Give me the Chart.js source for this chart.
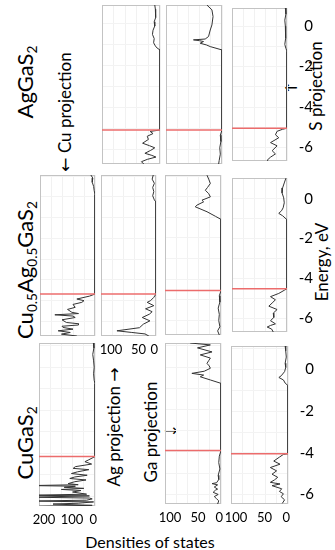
<!DOCTYPE html>
<html>
<head>
<meta charset="utf-8">
<script src="https://cdn.jsdelivr.net/npm/chart.js@4.4.0/dist/chart.umd.min.js"></script>
<style>
  body { margin: 0; background: #fff; font-family: Lato, sans-serif; }
  #fig { position: relative; width: 335px; height: 550px; overflow: hidden; }
  canvas.panel { position: absolute; }
  .rot { position: absolute; white-space: nowrap; color: #000; transform: translate(-50%, -50%) rotate(-90deg); }
  .flat { position: absolute; white-space: nowrap; color: #000; transform: translate(-50%, -50%); font-family: "DejaVu Sans", sans-serif; }
  .arr { font-family: "DejaVu Sans", sans-serif; }
  sub { font-size: 62%; vertical-align: -0.32em; line-height: 0; }
</style>
</head>
<body>
<div id="fig">
  <div class="rot" style="left:24px;top:82px;font-size:22px">AgGaS<sub>2</sub></div>
  <div class="rot" style="left:24px;top:270px;font-size:22px">Cu<sub>0.5</sub>Ag<sub>0.5</sub>GaS<sub>2</sub></div>
  <div class="rot" style="left:24px;top:443px;font-size:22px">CuGaS<sub>2</sub></div>
  <div class="rot" style="left:64px;top:112px;font-size:17px"><span class="arr">&larr;</span> Cu projection</div>
  <div class="rot" style="left:113px;top:427px;font-size:17px">Ag projection <span class="arr">&rarr;</span></div>
  <div class="rot" style="left:150px;top:432px;font-size:17px">Ga projection</div>
  <div class="flat" style="left:171px;top:430px;font-size:16px">&rarr;</div>
  <div class="rot" style="left:315px;top:86px;font-size:17px">S projection</div>
  <div class="flat" style="left:291px;top:87px;font-size:16px">&larr;</div>
  <div class="rot" style="left:321px;top:262px;font-size:17px">Energy, eV</div>
  <div class="flat" style="left:150px;top:541px;font-size:16px;font-family:Lato,sans-serif">Densities of states</div>
</div>
<script>
// tick labels
var xTicks100 = [0, 50, 100];
var xTicks200 = [0, 100, 200];
var yTicks = [0, -2, -4, -6];

// AgGaS2 (energy in eV, density of states)
var agsAgE = [0.9, 0.7, 0.5, 0.3, 0.1, -0.1, -0.3, -0.5, -0.7, -0.9, -1.05, -1.15, -1.24,
              -5.05, -5.12, -5.22, -5.35, -5.5, -5.68, -5.8, -5.9, -6.02, -6.16, -6.26, -6.34, -6.45, -6.56, -6.67];
var agsAgD = [9, 8, 7, 8, 10, 9, 12, 13, 10, 11, 8, 5, 0,
              0, 17, 12, 22, 20, 30, 18, 9, 16, 26, 14, 7, 22, 32, 28];
var agsGaE = [0.9, 0.67, 0.35, -0.05, -0.29, -0.6, -0.72, -0.76, -0.8, -0.84, -0.92, -1.0, -1.08, -1.24,
              -5.05, -5.3, -5.6, -5.9, -6.2, -6.5, -6.67];
var agsGaD = [27, 18, 16, 18, 21, 24, 30, 51, 40, 33, 39, 28, 21, 0,
              0, 3, 2, 4, 3, 5, 6];
var agsSE = [0.9, 0.6, 0.3, 0, -0.3, -0.6, -0.9, -1.1, -1.24,
             -5.05, -5.1, -5.2, -5.37, -5.52, -5.76, -5.92, -6.16, -6.32, -6.48, -6.63, -6.67];
var agsSD = [3, 2, 4, 3, 3, 2, 4, 2, 0,
             0, 8, 18, 21, 15, 30, 18, 27, 21, 30, 36, 34];

// Cu0.5Ag0.5GaS2
var mixCuE = [1.05, 0.9, 0.7, 0.5, 0.3, 0.1,
              -4.68, -4.78, -4.92, -5.0, -5.08, -5.18, -5.32, -5.42, -5.56, -5.62, -5.68, -5.74, -5.81, -5.92,
              -6.05, -6.11, -6.17, -6.23, -6.29, -6.37, -6.45, -6.53, -6.61, -6.7];
var mixCuD = [15, 8, 10, 5, 3, 0,
              0, 20, 66, 40, 48, 80, 72, 100, 84, 60, 146, 80, 72, 120,
              104, 60, 60, 120, 116, 80, 134, 90, 122, 66];
var mixAgE = [1.05, 0.85, 0.65, 0.45, 0.25, 0.05, -0.15, -0.25,
              -4.68, -4.84, -5.0, -5.08, -5.24, -5.39, -5.53, -5.65, -5.81, -5.97, -6.13, -6.3, -6.45, -6.53, -6.6, -6.7];
var mixAgD = [5, 7, 3, 6, 4, 6, 3, 0,
              0, 4, 10, 16, 4, 19, 7, 12, 25, 11, 23, 30, 71, 44, 20, 13];
var mixGaE = [1.04, 0.85, 0.64, 0.45, 0.31, 0.15, -0.01, -0.17, -0.25, -0.41, -0.49, -0.73, -0.95, -1.1,
              -4.55, -4.8, -5.1, -5.4, -5.7, -6.0, -6.3, -6.5, -6.7];
var mixGaD = [25, 22, 19, 24, 28, 22, 19, 34, 31, 43, 46, 25, 10, 0,
              0, 3, 2, 5, 3, 4, 2, 6, 3];
var mixSE = [1.04, 0.8, 0.55, 0.3, 0.05, -0.2, -0.45, -0.6, -0.73, -0.85, -1.05,
             -4.52, -4.6, -4.76, -4.92, -5.08, -5.24, -5.4, -5.57, -5.75, -5.97, -6.13, -6.29, -6.37, -6.45, -6.55, -6.7];
var mixSD = [2, 5, 8, 9, 6, 5, 7, 10, 15, 8, 0,
             0, 5, 15, 30, 21, 27, 33, 18, 25, 24, 30, 21, 30, 36, 28, 25];

// CuGaS2
var cgsCuE = [1.15, 0.9, 0.6, 0.3, 0.0, -0.3, -0.6, -0.77,
              -4.15, -4.3, -4.39, -4.5, -4.62, -4.7, -4.76, -4.86, -4.94, -5.02,
              -5.1, -5.17, -5.24, -5.32, -5.41, -5.46, -5.5, -5.53, -5.58, -5.63,
              -5.68, -5.73, -5.8, -5.9, -5.95, -5.98, -6.04, -6.08, -6.12, -6.18,
              -6.22, -6.26, -6.32, -6.36, -6.42, -6.47, -6.5];
var cgsCuD = [6, 4, 8, 5, 3, 5, 3, 0,
              0, 22, 36, 12, 70, 78, 22, 62, 84, 28,
              72, 90, 32, 72, 96, 60, 230, 70, 110, 40,
              120, 50, 80, 30, 230, 20, 230, 20, 10, 30,
              230, 5, 60, 150, 10, 230, 5];
var cgsGaE = [1.13, 1.04, 0.9, 0.71, 0.57, 0.42, 0.3, 0.17, 0.05, -0.06, -0.2, -0.3, -0.38, -0.46, -0.61, -0.77,
              -3.93, -4.2, -4.5, -4.8, -5.1, -5.3, -5.45, -5.49, -5.55, -5.65, -5.75, -5.8, -5.9, -6.0, -6.1, -6.2, -6.3, -6.45];
var cgsGaD = [55, 19, 42, 16, 37, 19, 22, 25, 21, 19, 30, 52, 31, 37, 19, 0,
              0, 3, 4, 2, 5, 4, 8, 16, 6, 12, 6, 10, 14, 5, 12, 8, 4, 6];
var cgsSE = [1.13, 0.9, 0.6, 0.3, 0.1, -0.1, -0.3, -0.38, -0.5, -0.65, -0.77,
             -4.04, -4.07, -4.2, -4.39, -4.54, -4.7, -4.86, -5.02, -5.17, -5.3, -5.41, -5.49, -5.57, -5.72, -5.85, -5.96, -6.1, -6.25, -6.42];
var cgsSD = [5, 4, 3, 5, 4, 6, 12, 16, 8, 5, 0,
             0, 8, 15, 25, 14, 31, 20, 28, 18, 24, 31, 14, 28, 11, 15, 8, 12, 6, 10];

// valence band top (red line), eV
var agsVbm = [-5.05, -5.05, -5.05];
var mixVbm = [-4.68, -4.68, -4.55, -4.52];
var cgsVbm = [-4.15, -3.93, -4.04];

// energy range of each row
var rowMin = [-6.67, -6.7, -6.45];
var rowMax = [0.9, 1.05, 1.13];

// panel layout: x, y, w, h in px
var panels = [
    { e: agsAgE, d: agsAgD, vbm: agsVbm[0], row: 0, max: 100, box: [102, 5, 58, 159] },
    { e: agsGaE, d: agsGaD, vbm: agsVbm[1], row: 0, max: 100, box: [166, 5, 56, 159] },
    { e: agsSE, d: agsSD, vbm: agsVbm[2], row: 0, max: 100, box: [232, 5, 55, 159], yLab: true },
    { e: mixCuE, d: mixCuD, vbm: mixVbm[0], row: 1, max: 200, box: [40, 175, 55, 161] },
    { e: mixAgE, d: mixAgD, vbm: mixVbm[1], row: 1, max: 100, box: [101, 175, 55, 161], xLab: true, xShift: 10 },
    { e: mixGaE, d: mixGaD, vbm: mixVbm[2], row: 1, max: 100, box: [165, 175, 56, 160] },
    { e: mixSE, d: mixSD, vbm: mixVbm[3], row: 1, max: 100, box: [232, 175, 55, 160], yLab: true },
    { e: cgsCuE, d: cgsCuD, vbm: cgsVbm[0], row: 2, max: 200, box: [39, 343, 56, 163], xLab: true, xShift: 5 },
    { e: cgsGaE, d: cgsGaD, vbm: cgsVbm[1], row: 2, max: 100, box: [165, 343, 56, 161], xLab: true, xShift: 5 },
    { e: cgsSE, d: cgsSD, vbm: cgsVbm[2], row: 2, max: 100, box: [231, 343, 57, 161], xLab: true, yLab: true, xShift: 5 }
];

var framePlugin = {
    id: "frame",
    beforeDatasetsDraw: function (chart) {
        var a = chart.chartArea, c = chart.ctx;
        c.save();
        c.strokeStyle = "#c3c3c3";
        c.lineWidth = 1;
        c.strokeRect(Math.round(a.left) + 0.5, Math.round(a.top) + 0.5,
            Math.round(a.right - a.left) - 1, Math.round(a.bottom - a.top) - 1);
        c.restore();
    }
};

// x tick labels: "0" kept inside the right edge, the others nudged right
var xLabelPlugin = {
    id: "xLabels",
    afterDraw: function (chart, args, opts) {
        if (!opts.show) return;
        var sx = chart.scales.x, c = chart.ctx, y = chart.chartArea.bottom + 14;
        c.save();
        c.font = "13px Lato";
        c.fillStyle = "#000";
        c.textBaseline = "middle";
        opts.ticks.forEach(function (v) {
            var px = sx.getPixelForValue(v);
            if (v === 0) {
                c.textAlign = "right";
                px += 2;
            } else {
                c.textAlign = "center";
                px += opts.shift;
            }
            c.fillText(String(v), px, y);
        });
        c.restore();
    }
};

function near(list, v) {
    return list.some(function (t) { return Math.abs(t - v) < 1e-6; });
}

var fig = document.getElementById("fig");

panels.forEach(function (p) {
    var padL = 18, padR = 18, padT = 10, padB = 10;
    var yW = p.yLab ? 26 : 0, xH = p.xLab ? 26 : 0;
    var gridStep = p.max === 200 ? 40 : 20;

    var cv = document.createElement("canvas");
    cv.className = "panel";
    cv.width = p.box[2] + padL + padR + yW;
    cv.height = p.box[3] + padT + padB + xH;
    cv.style.left = (p.box[0] - padL) + "px";
    cv.style.top = (p.box[1] - padT) + "px";
    fig.appendChild(cv);

    var pts = p.e.map(function (e, i) { return { x: p.d[i], y: e }; });

    new Chart(cv.getContext("2d"), {
        type: "line",
        data: {
            datasets: [{
                data: [{ x: 0, y: p.vbm }, { x: p.max, y: p.vbm }],
                borderColor: "#ec6c6c",
                borderWidth: 1.5,
                pointRadius: 0
            }, {
                data: pts,
                borderColor: "#333333",
                borderWidth: 1,
                pointRadius: 0,
                tension: 0
            }]
        },
        options: {
            responsive: false,
            animation: false,
            events: [],
            layout: { padding: { left: padL, right: padR, top: padT, bottom: padB } },
            plugins: {
                legend: { display: false },
                tooltip: { enabled: false },
                xLabels: {
                    show: !!p.xLab,
                    ticks: p.max === 200 ? xTicks200 : xTicks100,
                    shift: p.xShift || 0
                }
            },
            scales: {
                x: {
                    type: "linear",
                    reverse: true,
                    min: 0,
                    max: p.max,
                    border: { display: false },
                    grid: {
                        drawTicks: false,
                        tickLength: 0,
                        color: function (c) {
                            return c.tick && Math.round(c.tick.value) % gridStep === 0 ? "#f1f1f1" : "rgba(0,0,0,0)";
                        }
                    },
                    ticks: { display: false, stepSize: p.max / 10, autoSkip: false },
                    afterFit: function (s) { s.height = xH; }
                },
                y: {
                    type: "linear",
                    position: "right",
                    min: rowMin[p.row],
                    max: rowMax[p.row],
                    border: { display: false },
                    grid: { drawTicks: false, tickLength: 0, color: "#f3f3f3" },
                    ticks: {
                        display: !!p.yLab,
                        stepSize: 1,
                        autoSkip: false,
                        includeBounds: false,
                        crossAlign: "far",
                        padding: 4,
                        color: "#000",
                        font: { family: "Lato", size: 15 },
                        callback: function (v) { return near(yTicks, v) ? String(v) : ""; }
                    },
                    afterFit: function (s) { s.width = yW; }
                }
            }
        },
        plugins: [framePlugin, xLabelPlugin]
    });
});
</script>
</body>
</html>
